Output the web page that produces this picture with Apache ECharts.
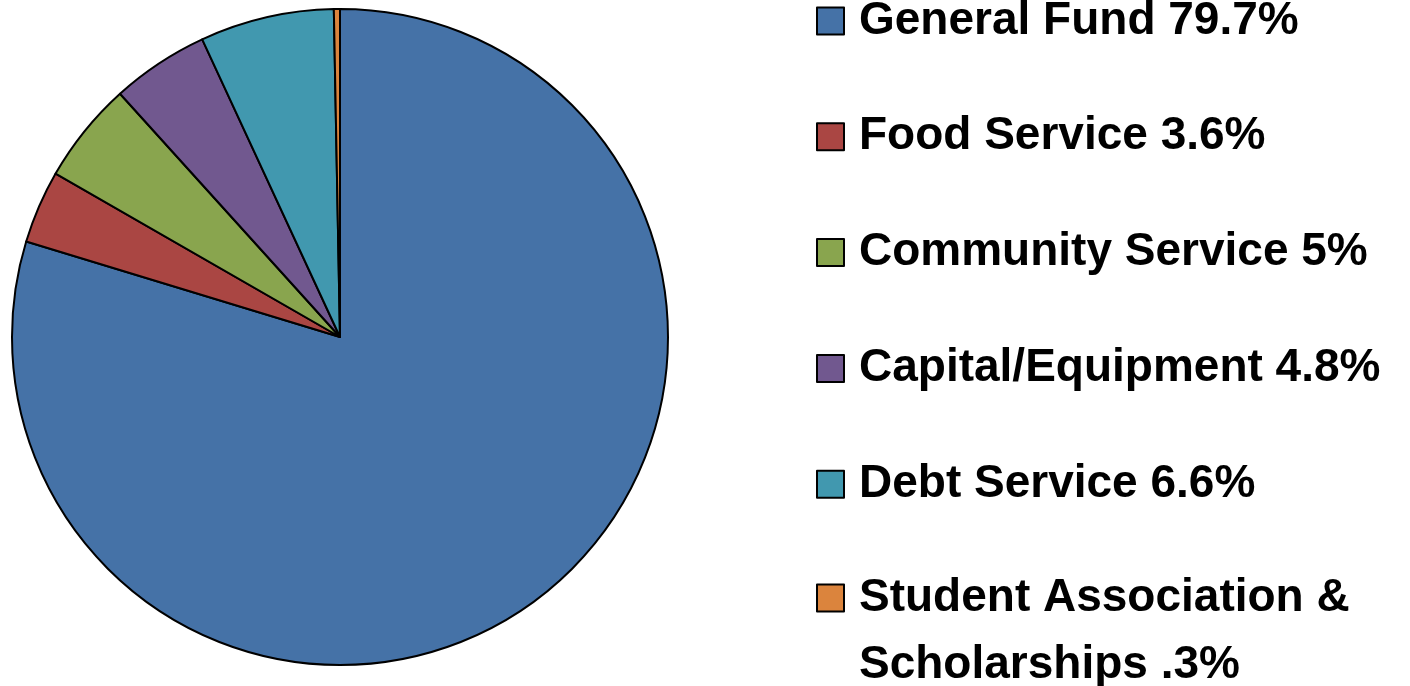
<!DOCTYPE html>
<html>
<head>
<meta charset="utf-8">
<script src="https://cdn.jsdelivr.net/npm/echarts@6/dist/echarts.min.js"></script>
<style>
  html, body { margin: 0; padding: 0; background: #fff; }
  #main { width: 1410px; height: 686px; }
</style>
</head>
<body>
<div id="main"></div>
<script>
  // budget split
  var categories = ['General Fund', 'Food Service', 'Community Service', 'Capital/Equipment', 'Debt Service', 'Student Association & Scholarships'];
  var values = [79.7, 3.6, 5, 4.8, 6.6, 0.3];
  var valueLabels = ['79.7%', '3.6%', '5%', '4.8%', '6.6%', '.3%'];
  var colors = ['#4572A7', '#AA4643', '#89A54E', '#71588F', '#4198AF', '#DB843D'];

  function legendText(name) {
    var i = categories.indexOf(name);
    // empty first line keeps the marker level with the first text line
    if (i === 5) return '\nStudent Association &\nScholarships ' + valueLabels[i];
    return name + ' ' + valueLabels[i];
  }

  var legendFont = {
    fontFamily: 'Liberation Sans',
    fontWeight: 'bold',
    fontSize: 46,
    color: '#000',
    padding: [0, 0, 0, 10]
  };

  var myChart = echarts.init(document.getElementById('main'));
  myChart.setOption({
    animation: false,
    color: colors,
    legend: [{
      orient: 'vertical',
      left: 816,
      top: -2,
      padding: 0,
      itemWidth: 27,
      itemHeight: 27,
      itemGap: 69.8,
      icon: 'rect',
      selectedMode: false,
      data: categories.slice(0, 5),
      formatter: legendText,
      itemStyle: { borderColor: '#000', borderWidth: 2 },
      textStyle: Object.assign({ lineHeight: 46 }, legendFont)
    }, {
      orient: 'vertical',
      left: 816,
      top: 497.5,
      padding: 0,
      itemWidth: 27,
      itemHeight: 27,
      icon: 'rect',
      selectedMode: false,
      data: categories.slice(5),
      formatter: legendText,
      itemStyle: { borderColor: '#000', borderWidth: 2 },
      textStyle: Object.assign({ lineHeight: 67 }, legendFont)
    }],
    series: [{
      type: 'pie',
      center: [340, 337],
      radius: 328,
      startAngle: 90,
      clockwise: true,
      label: { show: false },
      labelLine: { show: false },
      emphasis: { disabled: true },
      itemStyle: { borderColor: '#000', borderWidth: 2 },
      data: categories.map(function (c, i) {
        return { name: c, value: values[i] };
      })
    }]
  });
</script>
</body>
</html>
